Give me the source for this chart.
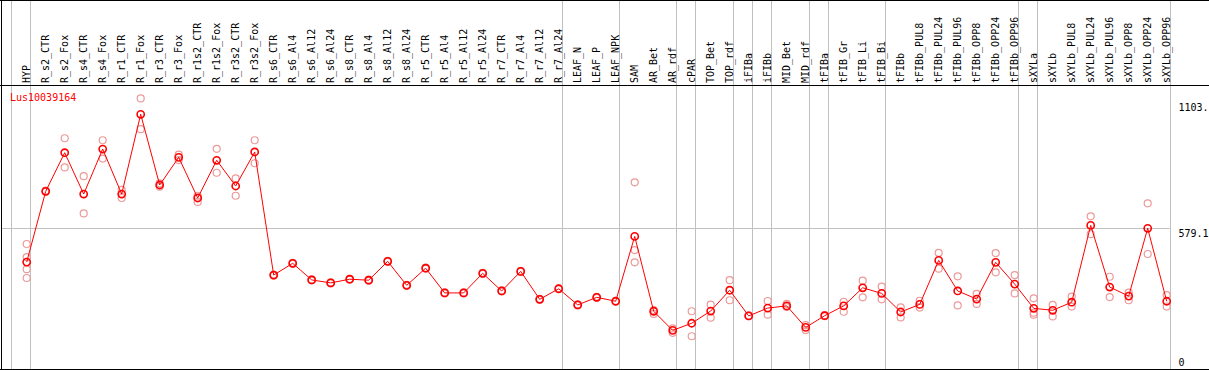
<!DOCTYPE html>
<html>
<head>
  <meta charset="UTF-8" />
  <title>Lus10039164</title>
  <script src="https://cdn.jsdelivr.net/npm/d3@7"></script>
  <style>
    body {
      margin: 0;
      padding: 0;
      background: white;
    }
    svg text {
      font-family: 'DejaVu Sans Mono', monospace;
      font-size: 10px;
    }
  </style>
</head>
<body>
  <div id="chart"></div>

<script>
  // Sample names, one per column
  const samples = [
    'HYP',
    'R_s2_CTR', 'R_s2_Fox', 'R_s4_CTR', 'R_s4_Fox', 'R_r1_CTR', 'R_r1_Fox',
    'R_r3_CTR', 'R_r3_Fox', 'R_r1s2_CTR', 'R_r1s2_Fox', 'R_r3s2_CTR', 'R_r3s2_Fox',
    'R_s6_CTR', 'R_s6_Al4', 'R_s6_Al12', 'R_s6_Al24',
    'R_s8_CTR', 'R_s8_Al4', 'R_s8_Al12', 'R_s8_Al24',
    'R_r5_CTR', 'R_r5_Al4', 'R_r5_Al12', 'R_r5_Al24',
    'R_r7_CTR', 'R_r7_Al4', 'R_r7_Al12', 'R_r7_Al24',
    'LEAF_N', 'LEAF_P', 'LEAF_NPK',
    'SAM', 'AR_Bet', 'AR_rdf',
    'cPAR',
    'TOP_Bet', 'TOP_rdf',
    'iFIBa', 'iFIBb',
    'MID_Bet', 'MID_rdf',
    'tFIBa',
    'tFIB_Gr', 'tFIB_Li', 'tFIB_Bi',
    'tFIBb', 'tFIBb_PUL8', 'tFIBb_PUL24', 'tFIBb_PUL96', 'tFIBb_OPP8', 'tFIBb_OPP24', 'tFIBb_OPP96',
    'sXYLa',
    'sXYLb', 'sXYLb_PUL8', 'sXYLb_PUL24', 'sXYLb_PUL96', 'sXYLb_OPP8', 'sXYLb_OPP24', 'sXYLb_OPP96'
  ]

  // how many columns in each tissue group (a gray line is drawn after each group)
  const groupSizes = [1, 28, 3, 3, 1, 2, 1, 1, 2, 1, 3, 7, 1, 7]

  // mean expression per sample
  const means = [
    441,
    730, 888, 719, 903, 719, 1045,
    756, 869, 703, 857, 752, 891,
    388, 436, 368, 356,
    371, 367, 444, 346,
    416, 315, 315, 395,
    323, 403, 289, 332,
    266, 297, 281,
    546, 240, 162,
    191,
    241, 326,
    221, 253,
    262, 174,
    222,
    262, 336, 313,
    237, 268, 448, 323, 290, 440, 351,
    252,
    244, 277, 591, 339, 302, 579, 281
  ]

  // replicate values per sample
  const replicates = [
    [515, 461, 412, 376],
    [728, 733], [947, 828], [792, 640], [939, 864], [736, 703], [1110, 984],
    [763, 749], [880, 858], [712, 687], [904, 806], [783, 712], [939, 845],
    [386, 390], [434, 438], [366, 370], [354, 358],
    [369, 373], [365, 369], [442, 446], [344, 348],
    [414, 418], [313, 317], [313, 317], [393, 397],
    [321, 325], [401, 405], [287, 291], [330, 334],
    [264, 268], [295, 299], [279, 283],
    [767, 490, 440], [229, 245], [152, 170],
    [240, 138],
    [267, 214], [367, 285],
    [220, 223], [282, 226],
    [270, 257], [183, 163],
    [220, 224],
    [279, 238], [365, 297], [341, 289],
    [256, 215], [283, 255], [479, 414], [383, 264], [311, 270], [478, 399], [388, 313],
    [293, 234, 226],
    [266, 219], [300, 259], [628, 555], [381, 298], [316, 285], [681, 474], [306, 259]
  ]

  // right-hand tick labels (the top one is shown cut at the edge in the original)
  const tickValues = [0, 579.1, 1103.4]
  const tickLabels = ['0', '579.1', '1103.']
  const geneName = 'Lus10039164'

  const width = 1209
  const height = 370
  const plotTop = 85
  const plotBottom = 369

  const svg = d3
    .select('#chart')
    .append('svg')
    .attr('width', width)
    .attr('height', height)

  // one band per sample, 19px wide
  const x = d3
    .scaleBand()
    .domain(samples)
    .range([10.7, 10.7 + samples.length * 19])
  const cx = (s) => x(s) + 16

  const y = d3
    .scaleLinear()
    .domain([0, 1103.4])
    .range([370, 100])

  // gray group separators (full height, through the header)
  const sepPositions = [x(samples[0])]
  let idx = 0
  groupSizes.forEach((n) => {
    idx += n
    sepPositions.push(x(samples[idx - 1]) + x.bandwidth())
  })
  svg
    .append('g')
    .selectAll('line')
    .data(sepPositions)
    .enter()
    .append('line')
    .attr('x1', (d) => Math.round(d) + 0.5)
    .attr('x2', (d) => Math.round(d) + 0.5)
    .attr('y1', 0)
    .attr('y2', plotBottom)
    .attr('stroke', '#c0c0c0')
    .attr('stroke-width', 1)

  // gray reference line at 579.1
  svg
    .append('line')
    .attr('x1', 1)
    .attr('x2', x.range()[1])
    .attr('y1', Math.round(y(579.1)) + 0.5)
    .attr('y2', Math.round(y(579.1)) + 0.5)
    .attr('stroke', '#c0c0c0')

  // frame
  const frame = svg.append('g').attr('stroke', 'black').attr('stroke-width', 1)
  frame.append('line').attr('x1', 0).attr('x2', width).attr('y1', 0.5).attr('y2', 0.5)
  frame.append('line').attr('x1', 0).attr('x2', width).attr('y1', plotTop + 0.5).attr('y2', plotTop + 0.5)
  frame.append('line').attr('x1', 0).attr('x2', width).attr('y1', plotBottom + 0.5).attr('y2', plotBottom + 0.5)
  frame.append('line').attr('x1', 1.5).attr('x2', 1.5).attr('y1', 0).attr('y2', plotBottom)

  // rotated column labels
  svg
    .append('g')
    .selectAll('text')
    .data(samples)
    .enter()
    .append('text')
    .attr('transform', (d) => `translate(${x(d) + 19.5},83) rotate(-90)`)
    .attr('fill', 'black')
    .text((d) => d)

  // gene name
  svg
    .append('text')
    .attr('x', 10)
    .attr('y', 101)
    .attr('fill', 'red')
    .text(geneName)

  // right-hand value labels
  svg
    .append('g')
    .selectAll('text')
    .data(tickValues)
    .enter()
    .append('text')
    .attr('x', 1178.5)
    .attr('y', (d) => Math.max(110.5, Math.min(y(d) + 8.5, 366)))
    .attr('fill', 'black')
    .text((d, i) => tickLabels[i])

  // replicate points
  const repData = []
  replicates.forEach((reps, i) => {
    reps.forEach((v) => repData.push({ s: samples[i], v }))
  })
  svg
    .append('g')
    .selectAll('circle')
    .data(repData)
    .enter()
    .append('circle')
    .attr('cx', (d) => cx(d.s))
    .attr('cy', (d) => y(d.v))
    .attr('r', 3.5)
    .attr('fill', 'none')
    .attr('stroke', '#eb9a9a')
    .attr('stroke-width', 1.2)

  // mean line
  const line = d3
    .line()
    .x((d, i) => cx(samples[i]))
    .y((d) => y(d))
  svg
    .append('path')
    .datum(means)
    .attr('d', line)
    .attr('fill', 'none')
    .attr('stroke', 'red')
    .attr('stroke-width', 1)

  // mean points
  svg
    .append('g')
    .selectAll('circle')
    .data(means)
    .enter()
    .append('circle')
    .attr('cx', (d, i) => cx(samples[i]))
    .attr('cy', (d) => y(d))
    .attr('r', 3.6)
    .attr('fill', 'none')
    .attr('stroke', 'red')
    .attr('stroke-width', 1.6)
</script>
</body>
</html>
